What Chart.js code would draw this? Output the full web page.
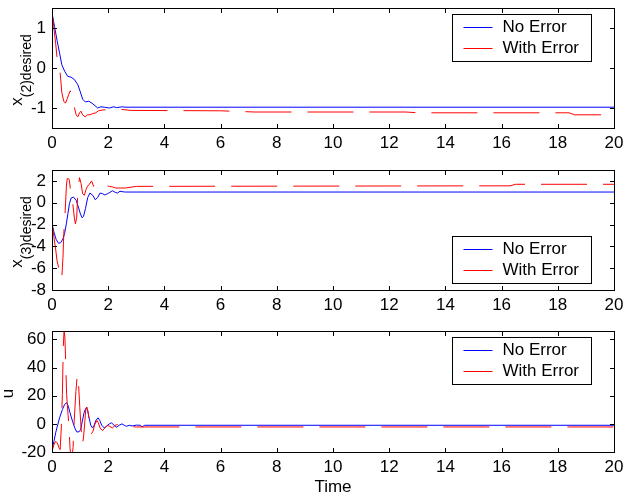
<!DOCTYPE html>
<html>
<head>
<meta charset="utf-8">
<script src="https://cdn.jsdelivr.net/npm/chart.js@4.4.1/dist/chart.umd.min.js"></script>
<style>
  html, body { margin: 0; padding: 0; background: #fff; }
  canvas { display: block; }
</style>
</head>
<body>
<canvas id="x2Chart" width="626" height="160"></canvas>
<canvas id="x3Chart" width="626" height="160"></canvas>
<canvas id="uChart" width="626" height="177"></canvas>
<script>
// Time axis ticks shared by all three panels
const timeTicks = [0, 2, 4, 6, 8, 10, 12, 14, 16, 18, 20]

// x(2) desired
const x2Ticks = [-1, 0, 1]
const x2TimeClean = [0, 0.09, 0.18, 0.27, 0.35, 0.45, 0.56, 0.68, 0.8, 0.92, 1.0, 1.09, 1.19, 1.31, 1.42, 1.53, 1.62, 1.74, 1.86, 2.04, 2.2, 2.3, 2.5, 2.6, 20]
const x2Clean = [1.37, 1.04, 0.69, 0.37, 0.08, -0.08, -0.21, -0.23, -0.29, -0.42, -0.58, -0.78, -0.85, -0.83, -0.88, -0.94, -1.0, -0.97, -0.98, -1.0, -0.97, -0.99, -0.97, -0.98, -0.98]
const x2TimeErr = [0, 0.06, 0.13, 0.18, 0.29, 0.35, 0.42, 0.48, 0.53, 0.59, 0.65, 0.78, 0.86, 0.92, 0.98, 1.03, 1.09, 1.18, 1.27, 1.35, 1.45, 1.56, 1.65, 1.8, 2.0, 2.15, 2.4, 2.8, 6.0, 7.2, 12.6, 13.0, 18.4, 18.6, 20]
const x2Err = [1.42, 1.04, 0.62, 0.25, -0.12, -0.62, -0.83, -0.88, -0.79, -0.67, -0.57, -0.94, -1.17, -1.22, -1.12, -1.08, -1.17, -1.22, -1.17, -1.17, -1.14, -1.12, -1.07, -1.05, -1.04, -1.04, -1.03, -1.06, -1.07, -1.1, -1.1, -1.12, -1.12, -1.17, -1.17]

// x(3) desired
const x3Ticks = [-8, -6, -4, -2, 0, 2]
const x3TimeClean = [0, 0.07, 0.15, 0.235, 0.31, 0.39, 0.45, 0.51, 0.565, 0.62, 0.68, 0.765, 0.86, 0.94, 1.01, 1.07, 1.12, 1.19, 1.27, 1.35, 1.45, 1.54, 1.62, 1.71, 1.8, 1.88, 1.98, 2.06, 2.15, 2.25, 2.33, 2.42, 2.53, 2.62, 20]
const x3Clean = [-1.94, -2.7, -3.38, -3.72, -3.66, -3.32, -2.8, -1.94, -1.02, -0.09, 0.43, 0.52, 0.22, -0.4, -1.02, -1.38, -1.26, -0.55, 0.46, 0.89, 0.68, 0.28, 0.46, 0.89, 0.83, 0.71, 0.83, 0.95, 1.1, 0.95, 0.89, 1.05, 1.0, 0.98, 0.98]
const x3TimeErr = [0, 0.07, 0.13, 0.18, 0.235, 0.31, 0.35, 0.39, 0.42, 0.47, 0.51, 0.54, 0.59, 0.62, 0.68, 0.74, 0.8, 0.835, 0.88, 0.92, 0.98, 1.035, 1.09, 1.15, 1.21, 1.25, 1.33, 1.41, 1.48, 1.56, 1.65, 1.74, 1.82, 1.92, 2.04, 2.15, 2.27, 2.62, 3.0, 16.3, 16.5, 20]
const x3Err = [-1.78, -3.17, -4.25, -5.32, -5.94, -7.0, -6.86, -5.0, -2.86, -0.7, 1.45, 2.2, 2.2, 2.06, 0.58, -0.09, -1.48, -1.94, -1.32, 0.98, 2.3, 1.75, 0.83, 0.68, 1.2, 1.45, 1.7, 2.0, 1.5, 1.7, 1.9, 1.7, 1.6, 1.57, 1.5, 1.45, 1.35, 1.35, 1.5, 1.55, 1.69, 1.69]

// control input u
const uTicks = [-20, 0, 20, 40, 60]
const uTimeClean = [0, 0.07, 0.13, 0.19, 0.27, 0.37, 0.45, 0.52, 0.58, 0.64, 0.73, 0.81, 0.88, 0.96, 1.02, 1.08, 1.14, 1.2, 1.26, 1.32, 1.38, 1.44, 1.5, 1.56, 1.64, 1.7, 1.77, 1.86, 1.94, 2.04, 2.12, 2.21, 2.3, 2.39, 2.49, 2.57, 2.65, 2.75, 2.85, 3.0, 3.15, 3.2, 3.3, 20]
const uClean = [-18.3, -12.4, -6.4, -1.7, 4.3, 10.2, 13.8, 15.0, 12.6, 7.9, 1.9, -2.9, -5.7, -5.7, -4.0, 1.9, 7.9, 11.0, 10.2, 4.3, -1.0, -2.9, -1.0, 2.4, 4.3, 2.4, -1.0, -2.9, -1.7, 0, 0.7, -1.0, -2.4, -1.0, 0, -1.0, -1.7, -1.0, -1.5, -0.9, -1.0, -2.2, -1.0, -1.0]
const uTimeErr = [0, 0.07, 0.13, 0.19, 0.25, 0.29, 0.33, 0.37, 0.4, 0.43, 0.46, 0.49, 0.52, 0.57, 0.61, 0.64, 0.69, 0.75, 0.79, 0.85, 0.9, 0.94, 0.99, 1.05, 1.08, 1.12, 1.17, 1.2, 1.24, 1.29, 1.35, 1.4, 1.46, 1.52, 1.6, 1.65, 1.71, 1.8, 1.88, 1.98, 2.06, 2.15, 2.25, 2.33, 2.45, 2.57, 2.75, 3.0, 20]
const uErr = [-19.5, -14.8, -12.4, -13.6, -17.1, -18.3, -2.9, 21, 54, 67, 61, 42, 21, 6.7, -2.9, -17, -27, -17, 1.9, 23, 35, 30, 11.4, -7.6, -14.8, -10, 1.9, 10.2, 12, 7.9, -2.9, -7.1, -5.2, -0.5, 2.4, 0.7, -2.9, -4.8, -2.9, -1, -1.9, -2.9, -1, -0.5, -1.7, -2.1, -1.9, -2.2, -2.2]

const FONT = "'Liberation Sans', Arial, Helvetica, sans-serif"
Chart.defaults.font.family = FONT
Chart.defaults.font.size = 17
Chart.defaults.color = '#000'

const toPoints = (ts, vs) => ts.map((t, i) => ({ x: t, y: vs[i] }))

/**
 * Box, inward tick marks on all four sides, boxed legend and the
 * subscripted y label, drawn on top of the plotted lines
 */
const boxedAxes = {
  id: 'boxedAxes',
  afterDatasetsDraw(chart, args, opts) {
    const { ctx, chartArea: a, scales: { x, y } } = chart
    const seg = (x1, y1, x2, y2) => {
      ctx.beginPath()
      ctx.moveTo(x1, y1)
      ctx.lineTo(x2, y2)
      ctx.stroke()
    }
    ctx.save()
    ctx.setLineDash([])
    ctx.lineWidth = 1
    ctx.strokeStyle = '#000'

    // axes box
    ctx.strokeRect(a.left + 0.5, a.top + 0.5, a.right - a.left, a.bottom - a.top)

    // tick marks pointing into the plot
    x.ticks.forEach(t => {
      const px = Math.round(x.getPixelForValue(t.value)) + 0.5
      seg(px, a.top, px, a.top + 5)
      seg(px, a.bottom + 1, px, a.bottom - 4)
    })
    y.ticks.forEach(t => {
      const py = Math.round(y.getPixelForValue(t.value)) + 0.5
      seg(a.left, py, a.left + 5, py)
      seg(a.right + 1, py, a.right - 4, py)
    })

    // legend box
    const bw = 139, bh = 47
    const bx = a.right - 162 + 0.5
    const by = (opts.legendBottom ? a.bottom - 7 - bh : a.top + 6) + 0.5
    ctx.fillStyle = '#fff'
    ctx.fillRect(bx, by, bw, bh)
    ctx.strokeRect(bx, by, bw, bh)
    ctx.font = `17px ${FONT}`
    ctx.textBaseline = 'middle'
    ctx.textAlign = 'left'
    chart.data.datasets.forEach((ds, i) => {
      const cy = Math.round(by + 12 + i * 21) + 0.5
      ctx.strokeStyle = ds.borderColor
      seg(bx + 11, cy, bx + 40, cy)
      ctx.fillStyle = '#000'
      ctx.fillText(ds.label, bx + 50, cy)
    })

    // rotated y label with optional subscript
    ctx.translate(opts.labelX, (a.top + a.bottom) / 2 + 2)
    ctx.rotate(-Math.PI / 2)
    ctx.textBaseline = 'alphabetic'
    ctx.fillStyle = '#000'
    ctx.font = `17px ${FONT}`
    const mainW = ctx.measureText(opts.label).width
    ctx.font = `14px ${FONT}`
    const subW = opts.sub ? ctx.measureText(opts.sub).width : 0
    const start = -(mainW + subW) / 2
    ctx.font = `17px ${FONT}`
    ctx.fillText(opts.label, start, 0)
    if (opts.sub) {
      ctx.font = `14px ${FONT}`
      ctx.fillText(opts.sub, start + mainW, 9)
    }
    ctx.restore()
  }
}

function makeChart(id, cfg) {
  const canvas = document.getElementById(id)
  return new Chart(canvas.getContext('2d'), {
    type: 'line',
    data: {
      datasets: [
        {
          label: 'No Error',
          data: toPoints(cfg.tClean, cfg.clean),
          borderColor: '#0000ff',
          borderWidth: 1,
          pointRadius: 0,
          tension: 0,
          order: 1
        },
        {
          label: 'With Error',
          data: toPoints(cfg.tErr, cfg.err),
          borderColor: '#ff0000',
          borderWidth: 1,
          borderDash: [46, 16],
          pointRadius: 0,
          tension: 0,
          order: 0
        }
      ]
    },
    options: {
      responsive: false,
      animation: false,
      events: [],
      layout: {
        padding: { top: cfg.top, right: 12, bottom: 0, left: 0 }
      },
      plugins: {
        legend: { display: false },
        tooltip: { enabled: false },
        boxedAxes: {
          label: cfg.label,
          sub: cfg.sub,
          labelX: cfg.labelX,
          legendBottom: cfg.legendBottom
        }
      },
      scales: {
        x: {
          type: 'linear',
          min: 0,
          max: 20,
          grid: { display: false, drawTicks: false },
          border: { display: false },
          ticks: { padding: 5, autoSkip: false, maxRotation: 0, callback: v => String(v) },
          title: {
            display: !!cfg.xTitle,
            text: cfg.xTitle || '',
            font: { size: 17, lineHeight: 1 },
            padding: { top: 0, bottom: 1 }
          },
          afterBuildTicks: scale => { scale.ticks = timeTicks.map(value => ({ value })) },
          afterFit: scale => {
            // fixed axis band, no extra room for overhanging end labels
            scale.height = cfg.xHeight
            scale.paddingLeft = 0
            scale.paddingRight = 0
          }
        },
        y: {
          min: cfg.yMin,
          max: cfg.yMax,
          grid: { display: false, drawTicks: false },
          border: { display: false },
          ticks: { padding: 6, autoSkip: false, callback: v => String(v) },
          afterBuildTicks: scale => { scale.ticks = cfg.yTicks.map(value => ({ value })) },
          afterFit: scale => {
            scale.width = 52
            scale.paddingTop = 0
            scale.paddingBottom = 0
          }
        }
      }
    },
    plugins: [boxedAxes]
  })
}

makeChart('x2Chart', {
  tClean: x2TimeClean, clean: x2Clean, tErr: x2TimeErr, err: x2Err,
  yMin: -1.5, yMax: 1.5, yTicks: x2Ticks,
  top: 8, xHeight: 32,
  label: 'x', sub: '(2)desired', labelX: 22
})

makeChart('x3Chart', {
  tClean: x3TimeClean, clean: x3Clean, tErr: x3TimeErr, err: x3Err,
  yMin: -8, yMax: 3, yTicks: x3Ticks,
  top: 10, xHeight: 30,
  label: 'x', sub: '(3)desired', labelX: 22, legendBottom: true
})

makeChart('uChart', {
  tClean: uTimeClean, clean: uClean, tErr: uTimeErr, err: uErr,
  yMin: -20, yMax: 66, yTicks: uTicks,
  top: 11, xHeight: 45,
  label: 'u', labelX: 13, xTitle: 'Time'
})
</script>
</body>
</html>
